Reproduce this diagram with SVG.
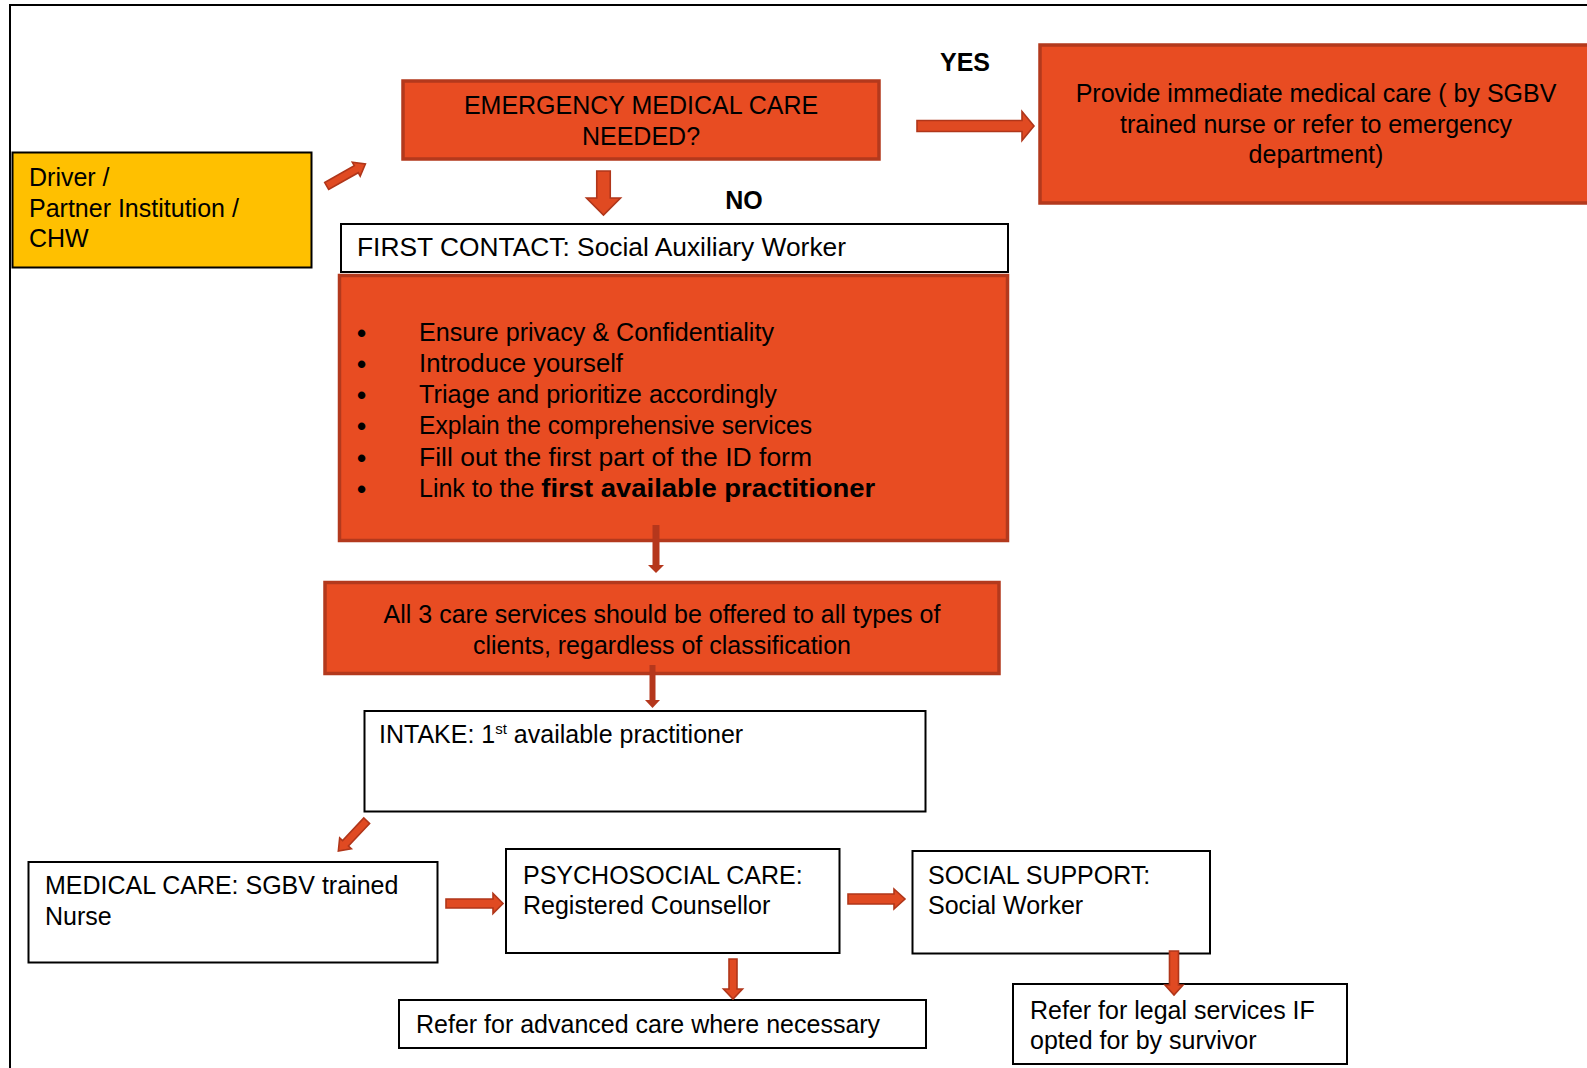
<svg xmlns="http://www.w3.org/2000/svg" width="1587" height="1068" viewBox="0 0 1587 1068">
<style>
  text { font-family: "Liberation Sans", Arial, sans-serif; font-size: 25px; fill: #000; }
  .c { text-anchor: middle; }
  .b { font-weight: bold; }
  .lbl { font-weight: bold; font-size: 25px; }
  .bul { font-size: 26px; font-weight: bold; }
  .orange { fill: #E84C22; stroke: #B3391D; stroke-width: 3.5; }
  .white { fill: #FFFFFF; stroke: #000; stroke-width: 2; }
  .yellow { fill: #FFC000; stroke: #000; stroke-width: 2; }
  .blk { fill: #E04A22; stroke: #B0361A; stroke-width: 1.6; stroke-linejoin: miter; }
  .thin { fill: #B5371C; stroke: none; }
  .frame { fill: none; stroke: #000; stroke-width: 2; }
</style>
<rect width="1587" height="1068" fill="#FFFFFF"/>
<path class="frame" d="M10,1068 V5 H1587"/>

<g id="driver">
  <rect class="yellow" x="12.5" y="152.5" width="299" height="115"/>
  <text x="29" y="186">Driver /</text>
  <text x="29" y="217">Partner Institution /</text>
  <text x="29" y="247">CHW</text>
</g>

<g id="emergency">
  <rect class="orange" x="403" y="81" width="476" height="78"/>
  <text class="c" x="641" y="114">EMERGENCY MEDICAL CARE</text>
  <text class="c" x="641" y="145">NEEDED?</text>
</g>

<g id="provide">
  <rect class="orange" x="1040" y="45" width="560" height="158"/>
  <text class="c" x="1316" y="102">Provide immediate medical care ( by SGBV</text>
  <text class="c" x="1316" y="133">trained nurse or refer to emergency</text>
  <text class="c" x="1316" y="163">department)</text>
</g>

<g id="yes-label"><text class="lbl c" x="965" y="71">YES</text></g>
<g id="no-label"><text class="lbl c" x="744" y="209">NO</text></g>

<g id="first-contact">
  <rect class="white" x="341" y="224" width="667" height="48"/>
  <text x="357" y="256" textLength="489" lengthAdjust="spacingAndGlyphs">FIRST CONTACT: Social Auxiliary Worker</text>
</g>

<g id="tasks">
  <rect class="orange" x="339.5" y="275.5" width="668" height="265"/>
  <text class="bul" x="357" y="342">•</text>
  <text class="bul" x="357" y="373">•</text>
  <text class="bul" x="357" y="404">•</text>
  <text class="bul" x="357" y="435">•</text>
  <text class="bul" x="357" y="467">•</text>
  <text class="bul" x="357" y="498">•</text>
  <text x="419" y="341" textLength="355" lengthAdjust="spacingAndGlyphs">Ensure privacy &amp; Confidentiality</text>
  <text x="419" y="372" textLength="204" lengthAdjust="spacingAndGlyphs">Introduce yourself</text>
  <text x="419" y="403" textLength="358" lengthAdjust="spacingAndGlyphs">Triage and prioritize accordingly</text>
  <text x="419" y="434" textLength="393" lengthAdjust="spacingAndGlyphs">Explain the comprehensive services</text>
  <text x="419" y="466" textLength="393" lengthAdjust="spacingAndGlyphs">Fill out the first part of the ID form</text>
  <text x="419" y="497">Link to the <tspan class="b" textLength="334" lengthAdjust="spacingAndGlyphs">first available practitioner</tspan></text>
</g>

<g id="all-services">
  <rect class="orange" x="325" y="582.5" width="674" height="91"/>
  <text class="c" x="662" y="623">All 3 care services should be offered to all types of</text>
  <text class="c" x="662" y="654">clients, regardless of classification</text>
</g>

<g id="intake">
  <rect class="white" x="364.5" y="711" width="561" height="100.5"/>
  <text x="379" y="743">INTAKE: 1<tspan font-size="15" dy="-9">st</tspan><tspan dy="9"> available practitioner</tspan></text>
</g>

<g id="medical">
  <rect class="white" x="28.5" y="862" width="409" height="100.5"/>
  <text x="45" y="894">MEDICAL CARE: SGBV trained</text>
  <text x="45" y="925">Nurse</text>
</g>

<g id="psychosocial">
  <rect class="white" x="506" y="849" width="333.5" height="104"/>
  <text x="523" y="884">PSYCHOSOCIAL CARE:</text>
  <text x="523" y="914">Registered Counsellor</text>
</g>

<g id="social">
  <rect class="white" x="912.5" y="851" width="297.5" height="102.5"/>
  <text x="928" y="884">SOCIAL SUPPORT:</text>
  <text x="928" y="914">Social Worker</text>
</g>

<g id="refer-advanced">
  <rect class="white" x="399" y="1000" width="527" height="48"/>
  <text x="416" y="1033">Refer for advanced care where necessary</text>
</g>

<g id="refer-legal">
  <rect class="white" x="1013" y="984" width="334" height="80"/>
  <text x="1030" y="1019">Refer for legal services IF</text>
  <text x="1030" y="1049">opted for by survivor</text>
</g>

<g id="connectors">
  <path class="blk" transform="translate(326.7,186) rotate(-29.6)" d="M0,-4 H34 V-8 L44.5,0 L34,8 V4 H0 Z"/>
  <path class="blk" d="M917,120.5 H1022 V111.5 L1034,126 L1022,140.5 V131.5 H917 Z"/>
  <path class="blk" d="M596.75,171 V198 H586.5 L603.5,215 L620.5,198 H610.25 V171 Z"/>
  <path class="thin" d="M652.5,525 V565 H648 L656,573 L664,565 H659.5 V525 Z"/>
  <path class="thin" d="M649.5,665 V700 H645 L652.5,708 L660,700 H655.5 V665 Z"/>
  <path class="blk" transform="translate(366.7,820.7) rotate(133.1)" d="M0,-4 H31 V-8 L41.5,0 L31,8 V4 H0 Z"/>
  <path class="blk" d="M446,899 H493 V893.5 L503,903.5 L493,913.5 V908 H446 Z"/>
  <path class="blk" d="M848,894 H894 V889 L905,899 L894,909 V904 H848 Z"/>
  <path class="blk" d="M729,959 V989 H723.5 L733,999 L742.5,989 H737 V959 Z"/>
  <path class="blk" d="M1169.5,951 V985 H1165 L1174,995 L1183,985 H1178.5 V951 Z"/>
</g>
</svg>
